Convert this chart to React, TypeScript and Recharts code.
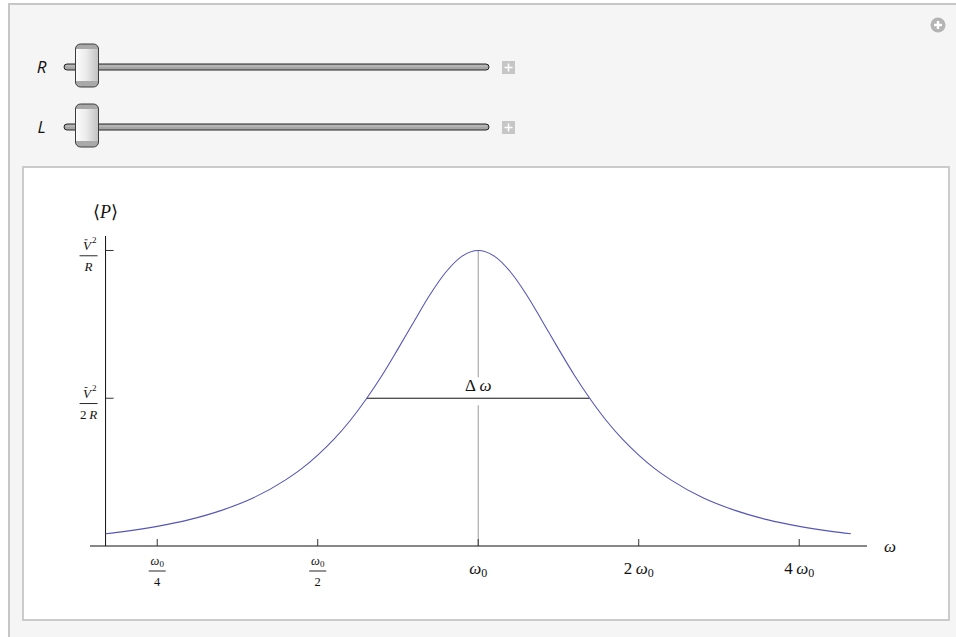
import React from 'react';
import { LineChart, Line, XAxis, YAxis, ReferenceLine, ReferenceDot } from 'recharts';

// ---- data ----
// angular frequency (in units of ω0) and mean power (in units of V̄²/R)
const omega = [0.2, 0.2176, 0.25, 0.2872, 0.3299, 0.3789, 0.4353, 0.4665, 0.5, 0.5359, 0.5743, 0.6156, 0.6598, 0.7071, 0.7579, 0.8123, 0.8706, 0.933, 1, 1.0718, 1.1487, 1.2311, 1.3195, 1.4142, 1.5157, 1.6245, 1.7411, 1.8661, 2, 2.1435, 2.2974, 2.639, 3.0314, 3.4822, 4, 4.5948, 5];
const power = [0.0416, 0.0496, 0.0664, 0.0892, 0.1206, 0.1633, 0.2238, 0.2617, 0.3077, 0.3607, 0.423, 0.4957, 0.577, 0.667, 0.76, 0.851, 0.928, 0.981, 1, 0.981, 0.928, 0.851, 0.76, 0.667, 0.577, 0.4957, 0.423, 0.3607, 0.3077, 0.2617, 0.2238, 0.1633, 0.1206, 0.0892, 0.0664, 0.0496, 0.0416];

const xTicks = [0.25, 0.5, 1, 2, 4];
const xTickCoef = ['', '', '', '2', '4'];
const xTickDen = ['4', '2', '', '', ''];
const yTicks = [1, 0.5];
const yTickDen = ['', '2'];
const xDomain = [0.187, 5.36];
const yDomain = [0, 1.049];
const yAxisAt = 0.2;
const resonance = 1;
const halfPower = 0.5;
const halfLow = 0.618;
const halfHigh = 1.618;
const sliderLabels = ['R', 'L'];

const data = omega.map((w, i) => ({ w, p: power[i] }));

const SERIF = '"Liberation Serif", "DejaVu Serif", serif';
const SANS = '"Open Sans", "Noto Sans", "DejaVu Sans", sans-serif';
const CURVE = '#5656b6';

const XTick = (props: any) => {
  const { x, y, payload } = props;
  const i = xTicks.indexOf(payload.value);
  const den = xTickDen[i];
  const coef = xTickCoef[i];
  return (
    <g>
      <line x1={x} y1={y} x2={x} y2={y - 7} stroke="#333" strokeWidth={1} />
      {den ? (
        <g fontFamily={SERIF} fill="#111">
          <text x={x} y={y + 19} textAnchor="middle" fontSize={12.5}>
            <tspan fontStyle="italic">ω</tspan>
            <tspan fontSize={9} dy={2}>0</tspan>
          </text>
          <line x1={x - 8.5} x2={x + 8.5} y1={y + 25} y2={y + 25} stroke="#111" strokeWidth={0.9} />
          <text x={x} y={y + 40} textAnchor="middle" fontSize={12.5}>{den}</text>
        </g>
      ) : (
        <text x={x} y={y + 28} textAnchor="middle" fontSize={17} fontFamily={SERIF} fill="#111">
          {coef ? coef + '\u2009' : ''}
          <tspan fontStyle="italic">ω</tspan>
          <tspan fontSize={12} dy={3}>0</tspan>
        </text>
      )}
    </g>
  );
};

const makeYTick = (den: string) => (props: any) => {
  const { cx, cy } = props;
  const fx = cx - 17;
  const by = cy + 5.3;
  return (
    <g fontFamily={SERIF} fill="#111">
      <line x1={cx} y1={cy} x2={cx + 8} y2={cy} stroke="#333" strokeWidth={1} />
      <text x={fx - 1.5} y={by - 6} textAnchor="middle" fontSize={13} fontStyle="italic">V</text>
      <line x1={fx - 4} x2={fx - 1} y1={by - 16} y2={by - 16} stroke="#111" strokeWidth={0.8} />
      <text x={fx + 3.5} y={by - 12.5} fontSize={9}>2</text>
      <line x1={fx - 9} x2={fx + 9} y1={by} y2={by} stroke="#111" strokeWidth={0.9} />
      <text x={fx} y={by + 15.5} textAnchor="middle" fontSize={13}>
        {den ? den + '\u2009' : ''}
        <tspan fontStyle="italic">R</tspan>
      </text>
    </g>
  );
};

const PLabel = (props: any) => {
  const { cx, cy } = props;
  return (
    <text x={cx} y={cy - 18} textAnchor="middle" fontSize={18} fontFamily={SERIF} fill="#111">
      ⟨<tspan fontStyle="italic">P</tspan>⟩
    </text>
  );
};

const OmegaLabel = (props: any) => {
  const { cx, cy } = props;
  return (
    <text x={cx + 17} y={cy + 6} textAnchor="start" fontSize={17} fontFamily={SERIF} fontStyle="italic" fill="#111">
      ω
    </text>
  );
};

const HalfLine = (props: any) => {
  const { x1, y1, x2, y2 } = props;
  const mx = (x1 + x2) / 2;
  return (
    <g>
      <rect x={mx - 20} y={y1 - 21} width={40} height={28} fill="#fff" />
      <text x={mx} y={y1 - 7} textAnchor="middle" fontSize={17} fontFamily={SERIF} fill="#111">
        Δ{'\u2009'}<tspan fontStyle="italic">ω</tspan>
      </text>
      <line x1={x1} y1={y1} x2={x2} y2={y2} stroke="#111" strokeWidth={1} />
    </g>
  );
};

const Slider = ({ label, cy }: { label: string; cy: number }) => (
  <g>
    <text x={41.5} y={cy + 6} textAnchor="middle" fontSize={17} fontStyle="italic" fontFamily={SANS} fill="#111">
      {label}
    </text>
    <rect x={64} y={cy - 3} width={425} height={6} rx={3} fill="#a6a6a6" stroke="#262626" strokeWidth={1} />
    <line x1={66} x2={487} y1={cy - 1} y2={cy - 1} stroke="#c4c4c4" strokeWidth={1} />
    <rect x={75.5} y={cy - 23} width={23} height={43} rx={5} fill="#a9a9a9" />
    <rect x={76} y={cy - 18} width={22} height={32} fill="url(#thumbGrad)" />
    <rect x={75.5} y={cy - 23} width={23} height={43} rx={5} fill="none" stroke="#3c3c3c" strokeWidth={1} />
    <rect x={502} y={cy - 6} width={13} height={13} fill="#c6c6c6" />
    <line x1={504.5} x2={512.5} y1={cy + 0.5} y2={cy + 0.5} stroke="#fff" strokeWidth={1.5} />
    <line x1={508.5} x2={508.5} y1={cy - 3.5} y2={cy + 4.5} stroke="#fff" strokeWidth={1.5} />
  </g>
);

export default function App() {
  return (
    <div style={{ position: 'absolute', left: 0, top: 0, width: 956, height: 637, background: '#fff', overflow: 'hidden' }}>
      <svg width={956} height={637} style={{ position: 'absolute', left: 0, top: 0 }}>
        <defs>
          <linearGradient id="thumbGrad" x1="0" y1="0" x2="1" y2="0">
            <stop offset="0" stopColor="#fbfbfb" />
            <stop offset="0.45" stopColor="#ececec" />
            <stop offset="1" stopColor="#c2c2c2" />
          </linearGradient>
        </defs>
        <rect x={9} y={4} width={960} height={650} fill="#f5f5f5" stroke="#c6c6c6" strokeWidth={2} />
        {sliderLabels.map((l, i) => (
          <Slider key={l} label={l} cy={67 + i * 60} />
        ))}
        <circle cx={938} cy={25} r={7.5} fill="#b4b4b4" />
        <line x1={934} x2={942} y1={25} y2={25} stroke="#fff" strokeWidth={2.5} />
        <line x1={938} x2={938} y1={21} y2={29} stroke="#fff" strokeWidth={2.5} />
        <rect x={23} y={167} width={926} height={453} fill="#fff" stroke="#cbcbcb" strokeWidth={2} />
      </svg>
      <div style={{ position: 'absolute', left: 0, top: 0 }}>
        <LineChart width={956} height={637} data={data} margin={{ top: 236, right: 89, bottom: 61, left: 90 }}>
          <XAxis
            dataKey="w"
            type="number"
            scale="log"
            domain={xDomain}
            allowDataOverflow
            ticks={xTicks}
            interval={0}
            height={30}
            tickSize={0}
            tickMargin={0}
            tickLine={false}
            axisLine={{ stroke: '#111', strokeWidth: 1 }}
            tick={<XTick />}
          />
          <YAxis hide type="number" domain={yDomain} allowDataOverflow />
          <ReferenceLine x={yAxisAt} stroke="#111" strokeWidth={1} />
          <ReferenceLine
            segment={[{ x: resonance, y: 0 }, { x: resonance, y: 1 }]}
            stroke="#999"
            strokeWidth={1}
          />
          <ReferenceLine
            segment={[{ x: halfLow, y: halfPower }, { x: halfHigh, y: halfPower }]}
            shape={(p: any) => <HalfLine {...p} />}
          />
          {yTicks.map((v, i) => (
            <ReferenceDot key={v} x={yAxisAt} y={v} r={1} ifOverflow="visible" shape={makeYTick(yTickDen[i])} />
          ))}
          <ReferenceDot x={yAxisAt} y={yDomain[1]} r={1} ifOverflow="visible" shape={(p: any) => <PLabel {...p} />} />
          <ReferenceDot x={xDomain[1]} y={0} r={1} ifOverflow="visible" shape={(p: any) => <OmegaLabel {...p} />} />
          <Line
            type="monotone"
            dataKey="p"
            stroke={CURVE}
            strokeWidth={1.1}
            dot={false}
            isAnimationActive={false}
          />
        </LineChart>
      </div>
    </div>
  );
}
